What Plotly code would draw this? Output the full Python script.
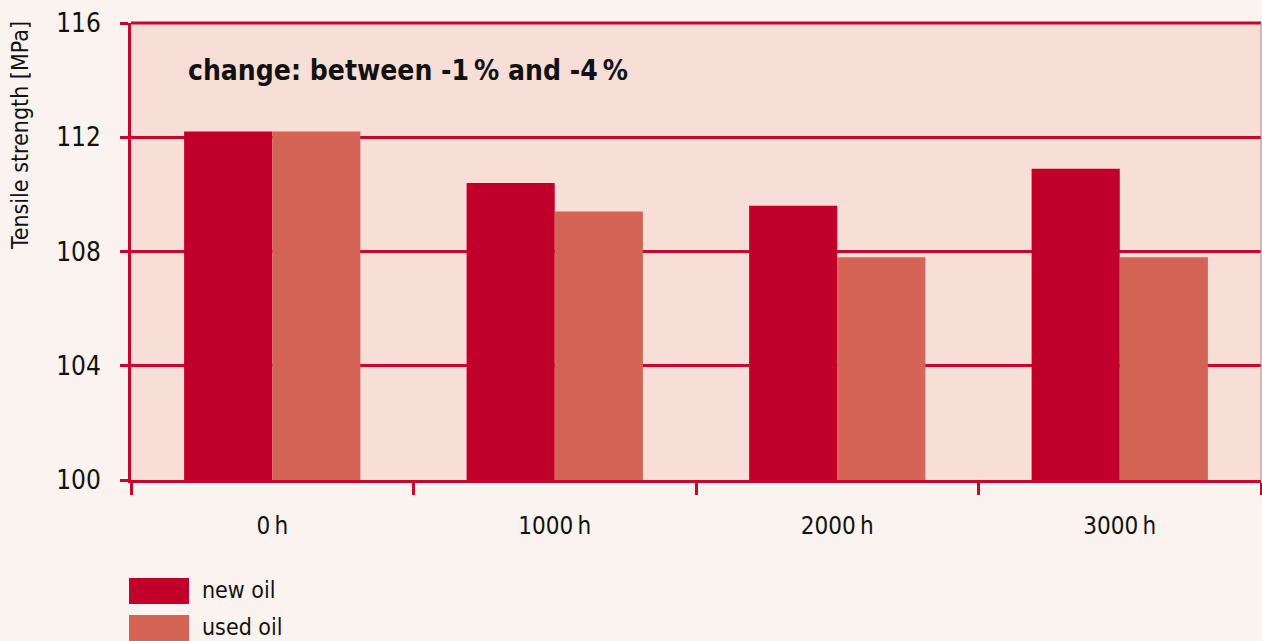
import plotly.graph_objects as go

# Tensile strength after oil immersion
categories = ["0\u2009h", "1000\u2009h", "2000\u2009h", "3000\u2009h"]
new_oil = [112.2, 110.4, 109.6, 110.9]
used_oil = [112.2, 109.4, 107.8, 107.8]
series_names = ["new oil", "used oil"]
y_ticks = [100, 104, 108, 112, 116]

RED = "#C6062E"
NEW_COLOR = "#C0002A"
USED_COLOR = "#D46456"
PAPER_BG = "#FBF3F0"
PLOT_BG = "#F7DED7"
FONT = "Liberation Sans Narrow, DejaVu Sans Condensed, Arial Narrow, sans-serif"

W, H = 1262, 641
ML, MR, MT, MB = 131, 1, 23, 161
PW, PH = W - ML - MR, H - MT - MB


def px_x(x):
    return (x - ML) / PW


def px_y(y):
    return (H - MB - y) / PH


fig = go.Figure()
fig.add_trace(go.Bar(x=categories, y=new_oil, name=series_names[0],
                     marker=dict(color=NEW_COLOR, line=dict(width=0)),
                     showlegend=False))
fig.add_trace(go.Bar(x=categories, y=used_oil, name=series_names[1],
                     marker=dict(color=USED_COLOR, line=dict(width=0)),
                     showlegend=False))

fig.update_layout(
    width=W, height=H,
    margin=dict(l=ML, r=MR, t=MT, b=MB, pad=0),
    paper_bgcolor=PAPER_BG,
    plot_bgcolor=PLOT_BG,
    barmode="group",
    bargap=0.376,
    bargroupgap=0,
    font=dict(family=FONT, color="#111111"),
    xaxis=dict(
        type="category",
        range=[-0.5, 3.5],
        tickson="boundaries",
        ticks="outside",
        ticklen=12,
        tickwidth=3,
        tickcolor=RED,
        showline=True,
        linecolor=RED,
        linewidth=3,
        showgrid=False,
        tickfont=dict(size=24, family=FONT, color="#111111"),
        ticklabelstandoff=22,
    ),
    yaxis=dict(
        range=[100, 116],
        tickvals=y_ticks,
        ticks="outside",
        ticklen=8,
        tickwidth=3,
        tickcolor=RED,
        showline=True,
        linecolor=RED,
        linewidth=3,
        showgrid=True,
        gridcolor=RED,
        gridwidth=3,
        zeroline=False,
        tickfont=dict(size=26, family=FONT, color="#111111"),
        ticklabelstandoff=14,
    ),
)

shapes = [
    # top frame line
    dict(type="line", xref="paper", yref="paper", x0=0, x1=1, y0=1, y1=1,
         line=dict(color=RED, width=3)),
    # thin right edge
    dict(type="line", xref="paper", yref="paper", x0=1, x1=1, y0=0, y1=1,
         line=dict(color="#D2707E", width=1)),
]

# legend swatches
legend_rows = [(578, 604, NEW_COLOR), (615, 641, USED_COLOR)]
for (y0, y1, color), name in zip(legend_rows, series_names):
    shapes.append(dict(type="rect", xref="paper", yref="paper",
                       x0=px_x(129), x1=px_x(189), y0=px_y(y1), y1=px_y(y0),
                       fillcolor=color, line=dict(width=0), layer="above"))

annotations = [
    dict(text="change: between -1\u2009% and -4\u2009%", xref="paper", yref="paper",
         x=px_x(186), y=px_y(71), xanchor="left", yanchor="middle",
         showarrow=False,
         font=dict(size=28, family=FONT, color="#111111", weight="bold")),
    dict(text="Tensile strength [MPa]", xref="paper", yref="paper",
         x=px_x(20), y=px_y(136), xanchor="center", yanchor="middle",
         textangle=-90, showarrow=False,
         font=dict(size=23, family=FONT, color="#111111")),
]
for (y0, y1, _), name in zip(legend_rows, series_names):
    annotations.append(dict(text=name, xref="paper", yref="paper",
                            x=px_x(200), y=px_y((y0 + y1) / 2 - 1),
                            xanchor="left", yanchor="middle", showarrow=False,
                            font=dict(size=23, family=FONT, color="#111111")))

fig.update_layout(shapes=shapes, annotations=annotations)
fig.write_html("out.html")
